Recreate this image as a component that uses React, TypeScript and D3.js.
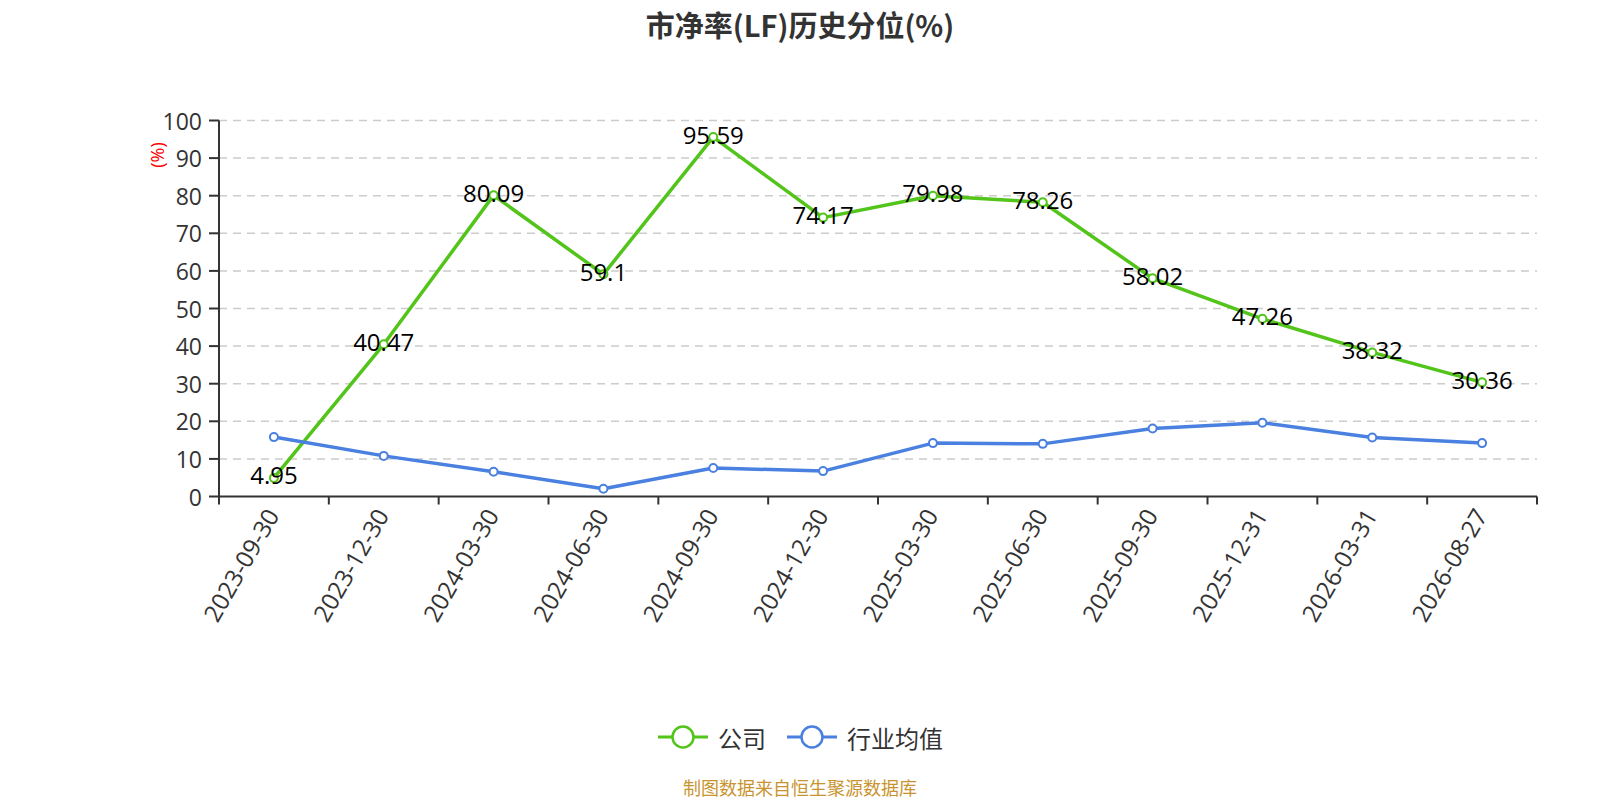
import React from "react";
import * as d3 from "d3";

const categories = [
  "2023-09-30", "2023-12-30", "2024-03-30", "2024-06-30", "2024-09-30", "2024-12-30",
  "2025-03-30", "2025-06-30", "2025-09-30", "2025-12-31", "2026-03-31", "2026-08-27",
];
const companyValues = [4.95, 40.47, 80.09, 59.1, 95.59, 74.17, 79.98, 78.26, 58.02, 47.26, 38.32, 30.36];
const industryValues = [15.8, 10.8, 6.6, 2.05, 7.6, 6.75, 14.2, 14.0, 18.1, 19.6, 15.7, 14.2];
const yTicks = [0, 10, 20, 30, 40, 50, 60, 70, 80, 90, 100];
const seriesNames = ["公司", "行业均值"];
const title = "市净率(LF)历史分位(%)";
const footer = "制图数据来自恒生聚源数据库";

const W = 1600;
const H = 800;
const left = 219;
const right = 1537;
const top = 120.5;
const bottom = 496.5;
const GREEN = "#52c41a";
const BLUE = "#4a80e0";
const FONT = "'Open Sans', 'Noto Sans CJK SC', sans-serif";
const CJK = "'Noto Sans CJK SC', sans-serif";

export default function App() {
  const x = d3.scaleBand<string>().domain(categories).range([left, right]);
  const y = d3.scaleLinear().domain([0, 100]).range([bottom, top]);
  const cx = (c: string) => (x(c) as number) + x.bandwidth() / 2;
  const line = d3
    .line<number>()
    .x((_, i) => cx(categories[i]))
    .y((v) => y(v));

  const series = [
    { name: seriesNames[0], values: companyValues, color: GREEN, labels: true },
    { name: seriesNames[1], values: industryValues, color: BLUE, labels: false },
  ];

  const boundaries = categories.map((c) => x(c) as number).concat([right]);

  return (
    <svg
      width={W}
      height={H}
      style={{ position: "absolute", left: 0, top: 0, background: "#fff" }}
      fontFamily={FONT}
    >
      <text x={800} y={24} textAnchor="middle" dominantBaseline="central" fontSize={29} fontWeight="bold" fill="#333" fontFamily={CJK}>
        {title}
      </text>

      {/* grid */}
      {yTicks.filter((t) => t > 0).map((t) => (
        <line key={t} x1={left} x2={right} y1={y(t)} y2={y(t)} stroke="#cccccc" strokeWidth={1.5} strokeDasharray="8,6" />
      ))}

      {/* y axis */}
      <line x1={left} x2={left} y1={top} y2={bottom} stroke="#333" strokeWidth={2} />
      {yTicks.map((t) => (
        <g key={t}>
          <line x1={left - 10} x2={left} y1={y(t)} y2={y(t)} stroke="#333" strokeWidth={2} />
          <text x={202} y={y(t)} textAnchor="end" dominantBaseline="central" fontSize={23} fill="#333">
            {t}
          </text>
        </g>
      ))}
      <text
        transform={`translate(157,155) rotate(-90)`}
        textAnchor="middle"
        dominantBaseline="central"
        fontSize={18}
        fill="#ff0000"
      >
        (%)
      </text>

      {/* x axis */}
      <line x1={left} x2={right} y1={bottom} y2={bottom} stroke="#333" strokeWidth={2} />
      {boundaries.map((b, i) => (
        <line key={i} x1={b} x2={b} y1={bottom} y2={bottom + 8} stroke="#333" strokeWidth={2} />
      ))}
      {categories.map((c) => (
        <text
          key={c}
          transform={`translate(${cx(c) - 2},${bottom + 14}) rotate(-60)`}
          textAnchor="end"
          dominantBaseline="central"
          fontSize={24}
          fill="#333"
        >
          {c}
        </text>
      ))}

      {/* series */}
      {series.map((s) => (
        <g key={s.name}>
          <path d={line(s.values) || ""} fill="none" stroke={s.color} strokeWidth={3.5} strokeLinejoin="round" />
          {s.values.map((v, i) => (
            <circle key={i} cx={cx(categories[i])} cy={y(v)} r={4} fill="#fff" stroke={s.color} strokeWidth={2} />
          ))}
        </g>
      ))}
      {series
        .filter((s) => s.labels)
        .map((s) =>
          s.values.map((v, i) => (
            <text
              key={s.name + i}
              x={cx(categories[i])}
              y={y(v) - 3}
              textAnchor="middle"
              dominantBaseline="central"
              fontSize={24}
              fill="#000"
            >
              {v}
            </text>
          ))
        )}

      {/* legend */}
      {series.map((s, i) => {
        const lx = i === 0 ? 658 : 787;
        return (
          <g key={s.name}>
            <line x1={lx} x2={lx + 50} y1={737} y2={737} stroke={s.color} strokeWidth={3} />
            <circle cx={lx + 25} cy={737} r={10.5} fill="#fff" stroke={s.color} strokeWidth={2.5} />
            <text x={lx + 60} y={737} dominantBaseline="central" fontSize={24} fill="#333" fontFamily={CJK}>
              {s.name}
            </text>
          </g>
        );
      })}

      <text x={800} y={787} textAnchor="middle" dominantBaseline="central" fontSize={18} fill="#c89430" fontFamily={CJK}>
        {footer}
      </text>
    </svg>
  );
}
